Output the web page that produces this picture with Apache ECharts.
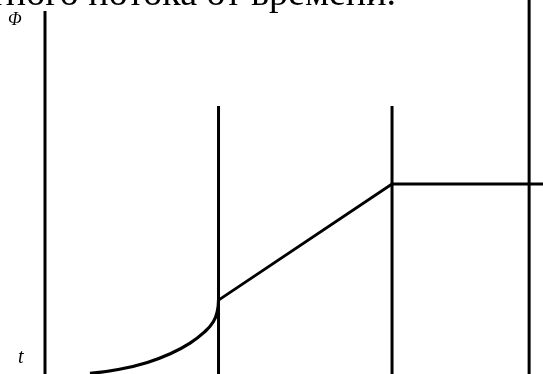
<!DOCTYPE html>
<html>
<head>
<meta charset="utf-8">
<style>
	html, body { margin: 0; padding: 0; background: #fff; }
	#flux { width: 543px; height: 374px; }
</style>
<script src="https://cdn.jsdelivr.net/npm/echarts@6/dist/echarts.min.js"></script>
</head>
<body>
<div id="flux"></div>
<script>
// time in units of t1, flux in units of the plateau value
var curvePts = [[0.259, 0.003], [0.43, 0.025], [0.59, 0.061], [0.72, 0.106],
	[0.836, 0.163], [0.92, 0.222], [0.97, 0.275], [0.993, 0.33], [1.0, 0.389]];
var rampPts = [[1.0, 0.389], [2.0, 1.0], [2.87, 1.0]];
var markTimes = [1, 2];
var markTop = 1.41;
var axisTop = 1.91;
var frameX = 2.79;
var frameTop = 1.97;
var title = 'магнитного потока от времени.';
var yName = 'Φ';
var xName = 't';

var chart = echarts.init(document.getElementById('flux'));

function vline(x, top) {
	return {
		type: 'line',
		symbol: 'none',
		silent: true,
		lineStyle: { color: '#000', width: 3 },
		data: [[x, 0], [x, top]]
	};
}

var series = [vline(0, axisTop), vline(frameX, frameTop)];
markTimes.forEach(function (t) { series.push(vline(t, markTop)); });
series.push({
	type: 'line',
	symbol: 'none',
	smooth: 0.5,
	lineStyle: { color: '#000', width: 3.2 },
	data: curvePts
});
series.push({
	type: 'line',
	symbol: 'none',
	lineStyle: { color: '#000', width: 2.8 },
	data: rampPts
});

var option = {
	backgroundColor: '#fff',
	animation: false,
	grid: { left: 45, right: 0, top: 0, bottom: 0 },
	xAxis: { type: 'value', min: 0, max: 2.87, show: false },
	yAxis: { type: 'value', min: 0, max: 374 / 190, show: false },
	graphic: [
		{
			type: 'text', right: 147, top: -24,
			style: { text: title, font: '38px "Liberation Serif"', fill: '#000' }
		},
		{
			type: 'text', left: 8, top: 11,
			style: { text: yName, font: 'italic 18px "Liberation Serif"', fill: '#000' }
		},
		{
			type: 'text', left: 18, top: 348,
			style: { text: xName, font: 'italic 20px "Liberation Serif"', fill: '#000' }
		}
	],
	series: series
};

chart.setOption(option);
</script>
</body>
</html>
